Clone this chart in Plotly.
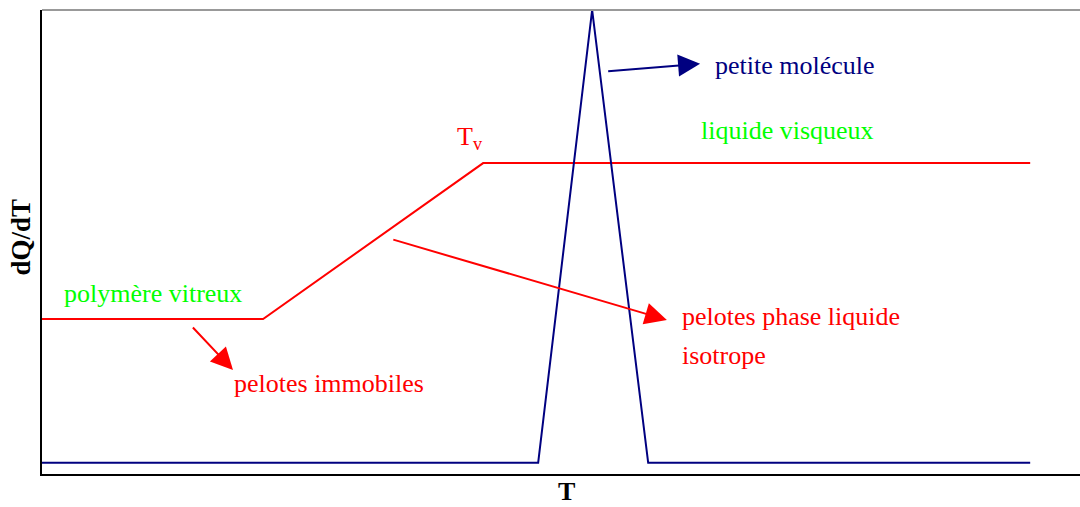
import plotly.graph_objects as go

# glass transition curve (red) and melting peak (blue), arbitrary units
red_x = [0, 21.3, 42.5, 95.2]
red_y = [33.4, 33.4, 67.0, 67.0]
blue_x = [0, 47.8, 53.0, 58.4, 95.2]
blue_y = [2.4, 2.4, 100.0, 2.4, 2.4]

# labels: text, x, y, colour
labels = [
    ("petite molécule", 64.6, 88.0, "#000080"),
    ("liquide visqueux", 63.3, 74.0, "#00FF00"),
    ("T<sub>v</sub>", 39.8, 72.4, "#FF0000"),
    ("polymère vitreux", 1.9, 38.9, "#00FF00"),
    ("pelotes immobiles", 18.3, 19.5, "#FF0000"),
    ("pelotes phase liquide", 61.5, 34.0, "#FF0000"),
    ("isotrope", 61.5, 25.5, "#FF0000"),
]

# arrows: tail x, tail y, tip x, tip y, colour
arrows = [
    (54.4, 86.8, 63.4, 88.4, "#000080"),
    (14.4, 31.9, 18.4, 22.4, "#FF0000"),
    (33.7, 50.6, 60.2, 33.2, "#FF0000"),
]

FONT = "Liberation Serif"

fig = go.Figure()
fig.add_trace(go.Scatter(x=red_x, y=red_y, mode="lines",
                         line=dict(color="#FF0000", width=2), hoverinfo="skip"))
fig.add_trace(go.Scatter(x=blue_x, y=blue_y, mode="lines",
                         line=dict(color="#000080", width=2), hoverinfo="skip"))

for text, x, y, color in labels:
    fig.add_annotation(x=x, y=y, text=text, showarrow=False, xanchor="left",
                       yanchor="middle", font=dict(family=FONT, size=26, color=color))

for x0, y0, x1, y1, color in arrows:
    fig.add_annotation(x=x1, y=y1, ax=x0, ay=y0, xref="x", yref="y",
                       axref="x", ayref="y", text="", showarrow=True,
                       arrowhead=2, arrowsize=2.2, arrowwidth=2, arrowcolor=color)

# axis titles
fig.add_annotation(xref="paper", yref="paper", x=-0.02, y=0.51, text="<b>dQ/dT</b>",
                   textangle=-90, showarrow=False, xanchor="center", yanchor="middle",
                   font=dict(family=FONT, size=27, color="black"))
fig.add_annotation(xref="paper", yref="paper", x=0.505, y=-0.038, text="<b>T</b>",
                   showarrow=False, xanchor="center", yanchor="middle",
                   font=dict(family=FONT, size=26, color="black"))

# grey top border
fig.add_shape(type="line", xref="paper", yref="paper", x0=0, x1=1, y0=1, y1=1,
              line=dict(color="#999999", width=2))

fig.update_layout(
    width=1080, height=507,
    margin=dict(l=42, r=0, t=10, b=33, autoexpand=False),
    paper_bgcolor="white", plot_bgcolor="white",
    showlegend=False,
    xaxis=dict(range=[0, 100], showgrid=False, zeroline=False, showticklabels=False,
               ticks="", showline=True, linecolor="black", linewidth=2),
    yaxis=dict(range=[0, 100], showgrid=False, zeroline=False, showticklabels=False,
               ticks="", showline=True, linecolor="black", linewidth=2),
)

fig.write_html("out.html", config={"displayModeBar": False},
               post_script="document.body.style.margin='0';")
